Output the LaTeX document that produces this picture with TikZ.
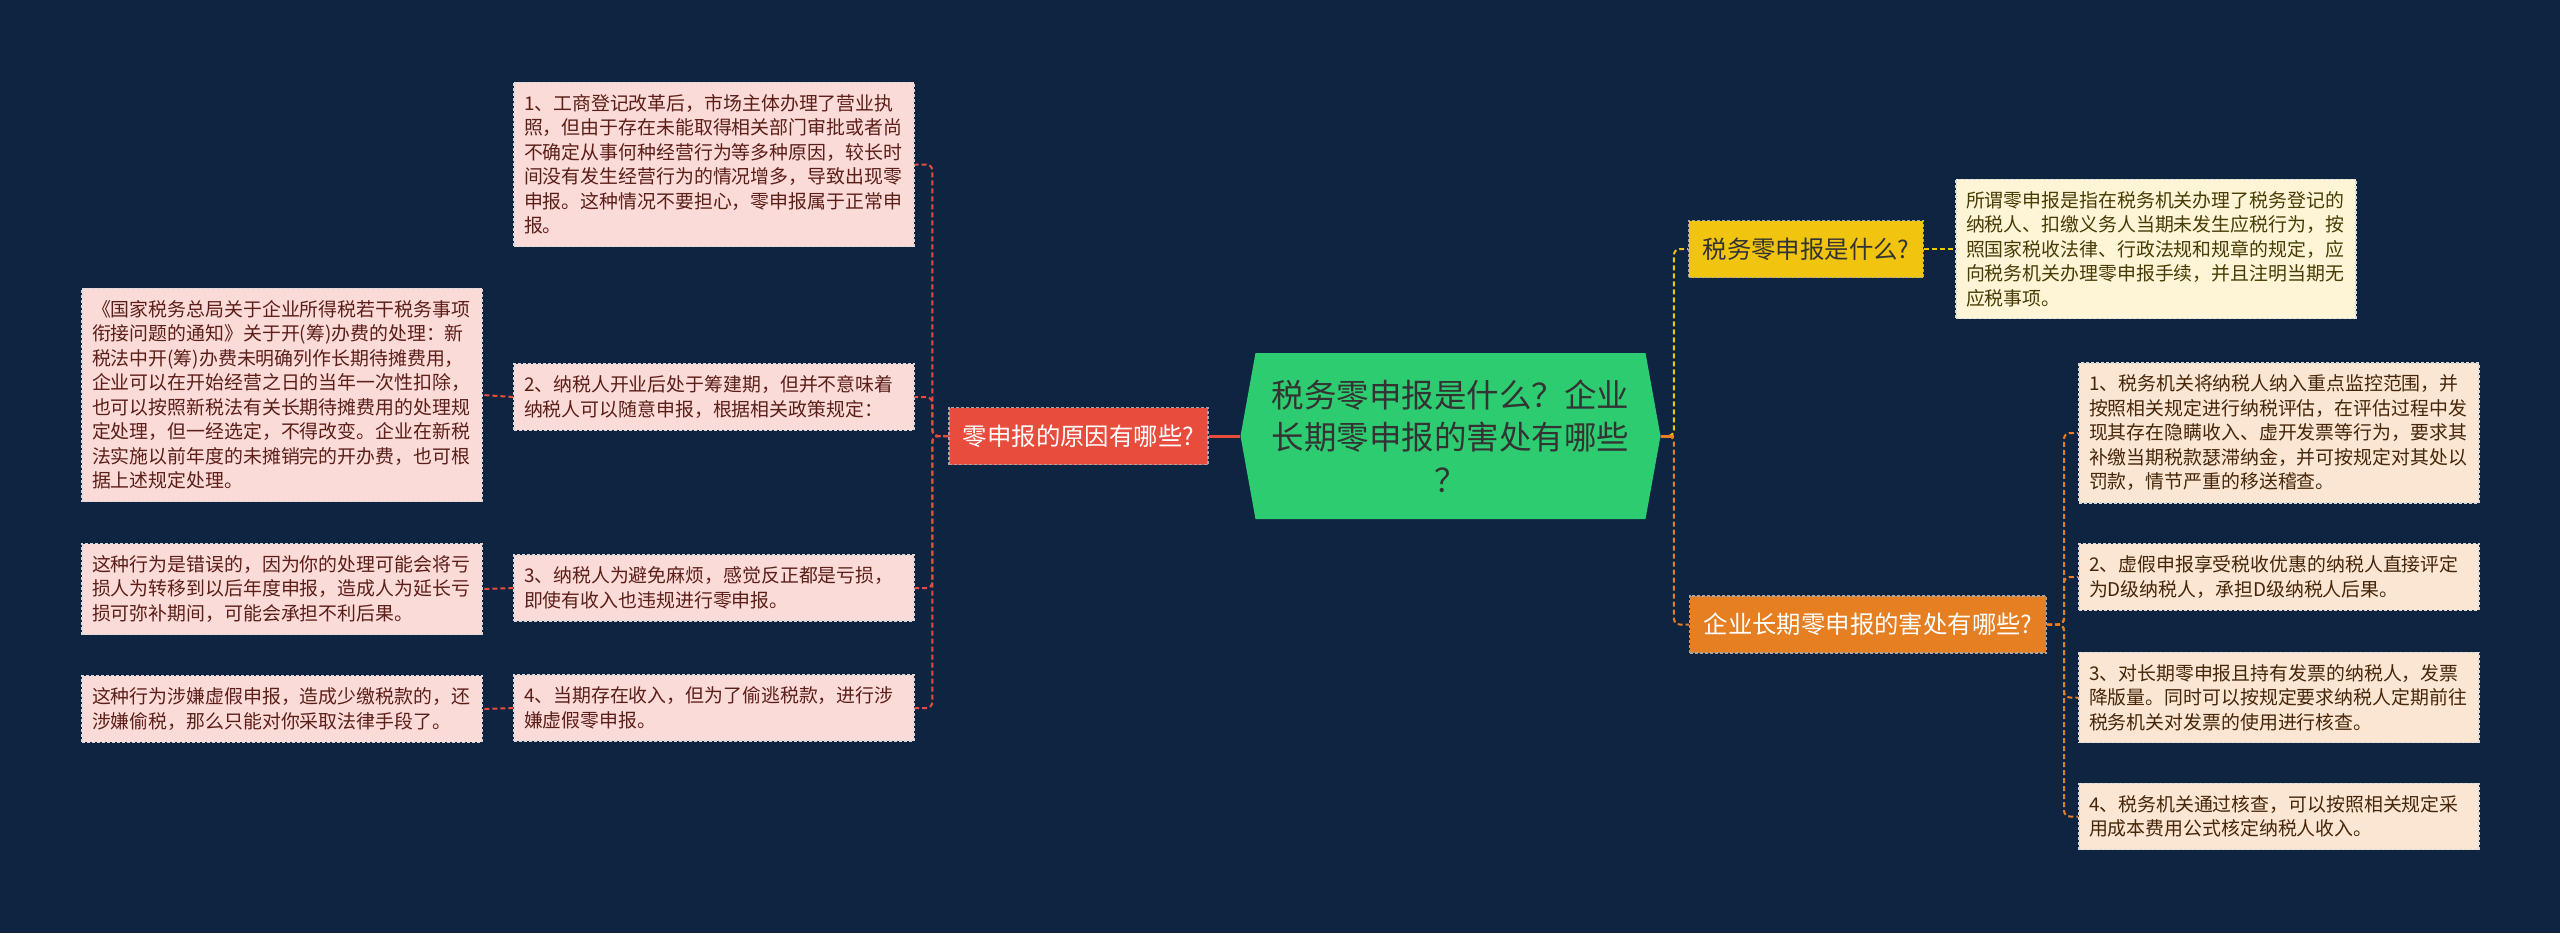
\documentclass[tikz,border=0pt]{standalone}
\usepackage{fontspec}
\setmainfont{Noto Sans CJK SC}
\usepackage{xcolor}
\definecolor{bg}{HTML}{0F2440}
\definecolor{redc}{HTML}{E74C3C}
\definecolor{yelc}{HTML}{F1C40F}
\definecolor{orgc}{HTML}{E67E22}
\definecolor{grnc}{HTML}{2ECC71}
\definecolor{pinkfill}{HTML}{FADBD8}
\definecolor{creamfill}{HTML}{FDF5D6}
\definecolor{peachfill}{HTML}{FBE6D3}

\begin{document}
\begin{tikzpicture}[x=0.5pt,y=-0.5pt,
    leaf/.style={draw=white!70!gray,dash pattern=on 1.5pt off 1pt,line width=.6pt,
      text width=190pt,inner xsep=5pt,inner ysep=6pt,align=left,
      font=\fontsize{9.45pt}{12.25pt}\selectfont},
    branch/.style={draw=black!35,dash pattern=on 1.5pt off 1pt,line width=.6pt,
      inner xsep=7pt,minimum height=28.5pt,font=\fontsize{12.2pt}{14pt}\selectfont},
    dashline/.style={line width=1pt,dash pattern=on 2.5pt off 1.5pt,rounded corners=3pt},
    rootline/.style={line width=1.5pt}]
  \useasboundingbox[fill=bg] (0,0) rectangle (2560,933);
  % root
  \node (R) at (1450.5,436) [minimum width=210pt,minimum height=83pt,text width=180pt,align=center,
    text=black!80,font=\fontsize{16.25pt}{21.25pt}\selectfont,
    path picture={\fill[grnc] (path picture bounding box.west)
      -- ([xshift=7.5pt]path picture bounding box.north west)
      -- ([xshift=-7.5pt]path picture bounding box.north east)
      -- (path picture bounding box.east)
      -- ([xshift=-7.5pt]path picture bounding box.south east)
      -- ([xshift=7.5pt]path picture bounding box.south west) -- cycle;}]
    {税务零申报是什么？企业\\长期零申报的害处有哪些\\？};
  % left side
  \node (L) at (1078.5,436) [branch,fill=redc,text=white] {零申报的原因有哪些?};
  \node (L1) at (714,164.5) [leaf,fill=pinkfill,text=redc!40!black] {1、工商登记改革后，市场主体办理了营业执\\照，但由于存在未能取得相关部门审批或者尚\\不确定从事何种经营行为等多种原因，较长时\\间没有发生经营行为的情况增多，导致出现零\\申报。这种情况不要担心，零申报属于正常申\\报。};
  \node (L2) at (714,397) [leaf,fill=pinkfill,text=redc!40!black] {2、纳税人开业后处于筹建期，但并不意味着\\纳税人可以随意申报，根据相关政策规定：};
  \node (L3) at (714,588) [leaf,fill=pinkfill,text=redc!40!black] {3、纳税人为避免麻烦，感觉反正都是亏损，\\即使有收入也违规进行零申报。};
  \node (L4) at (714,708) [leaf,fill=pinkfill,text=redc!40!black] {4、当期存在收入，但为了偷逃税款，进行涉\\嫌虚假零申报。};
  \node (La) at (282,395) [leaf,fill=pinkfill,text=redc!40!black] {《国家税务总局关于企业所得税若干税务事项\\衔接问题的通知》关于开(筹)办费的处理：新\\税法中开(筹)办费未明确列作长期待摊费用，\\企业可以在开始经营之日的当年一次性扣除，\\也可以按照新税法有关长期待摊费用的处理规\\定处理，但一经选定，不得改变。企业在新税\\法实施以前年度的未摊销完的开办费，也可根\\据上述规定处理。};
  \node (Lb) at (282,589) [leaf,fill=pinkfill,text=redc!40!black] {这种行为是错误的，因为你的处理可能会将亏\\损人为转移到以后年度申报，造成人为延长亏\\损可弥补期间，可能会承担不利后果。};
  \node (Lc) at (282,709) [leaf,fill=pinkfill,text=redc!40!black] {这种行为涉嫌虚假申报，造成少缴税款的，还\\涉嫌偷税，那么只能对你采取法律手段了。};
  % right side
  \node (Y) at (1806,249) [branch,fill=yelc,text=black!80] {税务零申报是什么?};
  \node (O) at (1868,624.5) [branch,fill=orgc,text=white] {企业长期零申报的害处有哪些?};
  \node (Y1) at (2156,249) [leaf,fill=creamfill,text=yelc!30!black] {所谓零申报是指在税务机关办理了税务登记的\\纳税人、扣缴义务人当期未发生应税行为，按\\照国家税收法律、行政法规和规章的规定，应\\向税务机关办理零申报手续，并且注明当期无\\应税事项。};
  \node (O1) at (2279,433) [leaf,fill=peachfill,text=orgc!30!black] {1、税务机关将纳税人纳入重点监控范围，并\\按照相关规定进行纳税评估，在评估过程中发\\现其存在隐瞒收入、虚开发票等行为，要求其\\补缴当期税款瑟滞纳金，并可按规定对其处以\\罚款，情节严重的移送稽查。};
  \node (O2) at (2279,577) [leaf,fill=peachfill,text=orgc!30!black] {2、虚假申报享受税收优惠的纳税人直接评定\\为D级纳税人，承担D级纳税人后果。};
  \node (O3) at (2279,697.5) [leaf,fill=peachfill,text=orgc!30!black] {3、对长期零申报且持有发票的纳税人，发票\\降版量。同时可以按规定要求纳税人定期前往\\税务机关对发票的使用进行核查。};
  \node (O4) at (2279,816.5) [leaf,fill=peachfill,text=orgc!30!black] {4、税务机关通过核查，可以按照相关规定采\\用成本费用公式核定纳税人收入。};
  % connectors
  \draw [rootline,redc] (R.west) to (L.east);
  \foreach \n in {L1,L2,L3,L4}
    \draw [dashline,redc] (L.west) -- ++(-16,0) |- (\n.east);
  \draw [dashline,redc] (L2.west) to (La.east);
  \draw [dashline,redc] (L3.west) to (Lb.east);
  \draw [dashline,redc] (L4.west) to (Lc.east);
  \draw [dashline,yelc] (R.east) -- ++(13,0) |- (Y.west);
  \draw [dashline,orgc] (R.east) -- ++(13,0) |- (O.west);
  \draw [rootline,orgc] (R.east) -- ++(13,0);
  \draw [dashline,yelc] (Y.east) to (Y1.west);
  \foreach \n in {O1,O2,O3,O4}
    \draw [dashline,orgc] (O.east) -- ++(17,0) |- (\n.west);
\end{tikzpicture}
\end{document}
